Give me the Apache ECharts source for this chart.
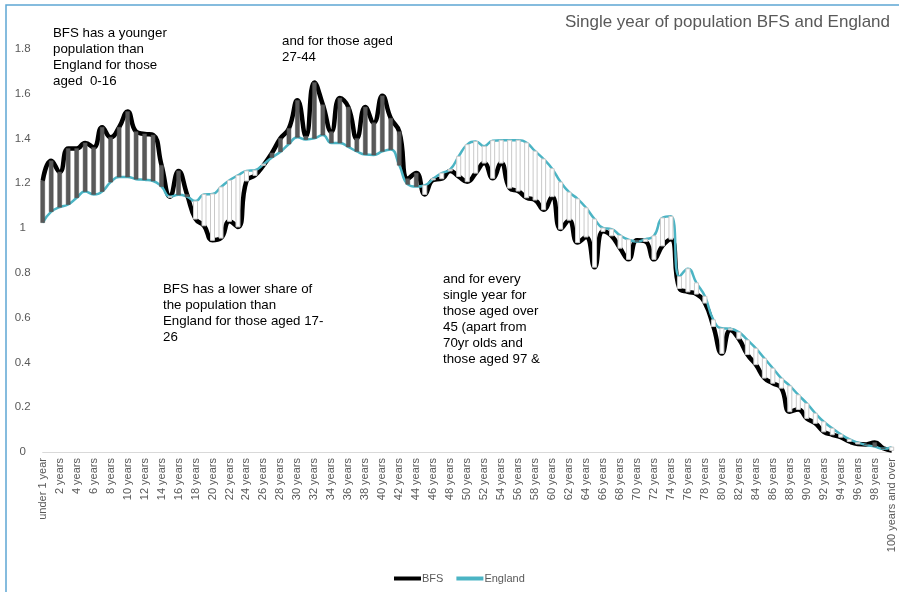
<!DOCTYPE html>
<html>
<head>
<meta charset="utf-8">
<script src="https://cdn.jsdelivr.net/npm/echarts@6/dist/echarts.min.js"></script>
<style>
  html, body { margin: 0; padding: 0; background: #fff; }
  #chart { width: 899px; height: 592px; }
</style>
</head>
<body>
<div id="chart"></div>
<script>
// Share of population (%) by single year of age, BFS vs England
const ages = ['under 1 year', '1 year'];
for (let a = 2; a <= 99; a++) ages.push(a + ' years');
ages.push('100 years and over');

const bfs = [
  1.21, 1.30, 1.25, 1.355, 1.355, 1.38, 1.36, 1.45, 1.405, 1.45,
  1.52, 1.43, 1.42, 1.415, 1.28, 1.14, 1.255, 1.15, 1.04, 1.01,
  0.945, 0.955, 1.03, 1.005, 1.21, 1.235, 1.28, 1.335, 1.40, 1.445,
  1.57, 1.41, 1.65, 1.55, 1.43, 1.58, 1.54, 1.40, 1.54, 1.47,
  1.59, 1.49, 1.43, 1.22, 1.245, 1.15, 1.215, 1.22, 1.255, 1.23,
  1.207, 1.245, 1.29, 1.222, 1.29, 1.178, 1.165, 1.135, 1.125, 1.082,
  1.14, 0.995, 1.035, 0.935, 0.96, 0.825, 0.985, 0.965, 0.91, 0.86,
  0.945, 0.94, 0.86, 0.92, 0.95, 0.73, 0.715, 0.705, 0.665, 0.56,
  0.44, 0.545, 0.505, 0.435, 0.39, 0.33, 0.307, 0.285, 0.18, 0.19,
  0.15, 0.128, 0.09, 0.077, 0.066, 0.047, 0.036, 0.034, 0.042, 0.017,
  0.007
];

const england = [
  1.024, 1.073, 1.093, 1.105, 1.135, 1.163, 1.15, 1.163, 1.205, 1.228,
  1.228, 1.218, 1.215, 1.21, 1.185, 1.14, 1.148, 1.14, 1.12, 1.15,
  1.152, 1.183, 1.213, 1.235, 1.255, 1.258, 1.285, 1.315, 1.34, 1.375,
  1.405, 1.395, 1.40, 1.415, 1.38, 1.38, 1.362, 1.342, 1.328, 1.326,
  1.342, 1.35, 1.28, 1.195, 1.185, 1.19, 1.22, 1.245, 1.262, 1.32,
  1.372, 1.386, 1.365, 1.39, 1.392, 1.392, 1.392, 1.38, 1.343, 1.308,
  1.265, 1.205, 1.16, 1.13, 1.09, 1.04, 1.0, 0.995, 0.967, 0.948,
  0.94, 0.95, 0.965, 1.045, 1.052, 0.783, 0.818, 0.755, 0.695, 0.59,
  0.552, 0.55, 0.535, 0.50, 0.463, 0.418, 0.374, 0.329, 0.295, 0.255,
  0.217, 0.173, 0.135, 0.106, 0.079, 0.057, 0.042, 0.031, 0.024, 0.014,
  0.022
];

const yTicks = { min: 0, max: 2, interval: 0.2 };

const titleText = 'Single year of population BFS and England';
const notes = [
  { x: 53, y: 33, lines: ['BFS has a younger', 'population than', 'England for those', 'aged  0-16'] },
  { x: 282, y: 41, lines: ['and for those aged', '27-44'] },
  { x: 163, y: 289, lines: ['BFS has a lower share of', 'the population than', 'England for those aged 17-', '26'] },
  { x: 443, y: 279, lines: ['and for every', 'single year for', 'those aged over', '45 (apart from', '70yr olds and', 'those aged 97 &'] }
];

const gapData = ages.map((_, i) => [i, bfs[i], england[i]]);

const chart = echarts.init(document.getElementById('chart'));

const graphics = [
  {
    type: 'rect', z: 0, silent: true,
    shape: { x: 6, y: 5, width: 1000, height: 700 },
    style: { fill: 'none', stroke: '#5ea7d3', lineWidth: 1.5 }
  },
  {
    type: 'text', z: 10,
    style: {
      x: 890, y: 22, text: titleText, textAlign: 'right', textVerticalAlign: 'middle',
      font: '17px "Liberation Sans", Arial, sans-serif', fill: '#595959'
    }
  }
];
notes.forEach(n => {
  n.lines.forEach((ln, k) => {
    graphics.push({
      type: 'text', z: 10,
      style: {
        x: n.x, y: n.y + k * 16, text: ln, textVerticalAlign: 'middle',
        font: '13.3px "Liberation Sans", Arial, sans-serif', fill: '#000'
      }
    });
  });
});

chart.setOption({
  animation: false,
  backgroundColor: '#fff',
  grid: { left: 42.7, right: 7.3, top: 4, bottom: 140 },
  legend: {
    bottom: 3, left: 389,
    data: ['BFS', 'England'],
    icon: 'rect', itemWidth: 27, itemHeight: 4, itemGap: 13,
    textStyle: { fontFamily: '"Liberation Sans", Arial, sans-serif', fontSize: 11, color: '#595959', padding: [0, 0, 0, -4] }
  },
  xAxis: {
    type: 'category',
    data: ages,
    boundaryGap: false,
    axisLine: { show: true, lineStyle: { color: '#d9d9d9', width: 1 } },
    axisTick: { show: false },
    axisLabel: {
      interval: 1, rotate: 90, margin: 6,
      fontFamily: '"Liberation Sans", Arial, sans-serif', fontSize: 11, color: '#595959'
    },
    splitLine: { show: false }
  },
  yAxis: {
    type: 'value',
    min: yTicks.min, max: yTicks.max, interval: yTicks.interval,
    axisLine: { show: false },
    axisTick: { show: false },
    splitLine: { show: false },
    axisLabel: {
      align: 'center', margin: 20,
      fontFamily: '"Liberation Sans", Arial, sans-serif', fontSize: 11.5, color: '#595959',
      formatter: v => (v >= yTicks.max ? '' : String(+v.toFixed(1)))
    }
  },
  graphic: graphics,
  series: [
    {
      name: 'BFS', type: 'line', data: bfs, smooth: 0.5,
      symbol: 'none', z: 2,
      lineStyle: { color: '#000', width: 4.5 },
      itemStyle: { color: '#000' }
    },
    {
      name: 'England', type: 'line', data: england, smooth: 0.5,
      symbol: 'none', z: 3,
      lineStyle: { color: '#4bb4c4', width: 2.5 },
      itemStyle: { color: '#4bb4c4' }
    },
    {
      name: 'gap', type: 'custom', data: gapData, z: 4,
      encode: { x: 0, y: [1, 2] },
      renderItem: (params, api) => {
        const i = api.value(0);
        const top = api.coord([i, api.value(1)]);
        const bot = api.coord([i, api.value(2)]);
        const up = api.value(1) > api.value(2);
        const w = 4;
        const y0 = Math.min(top[1], bot[1]);
        const h = Math.max(Math.abs(top[1] - bot[1]), 0.5);
        return {
          type: 'rect',
          shape: { x: top[0] - w / 2, y: y0, width: w, height: h },
          style: up
            ? { fill: '#595959', stroke: '#4a4a4a', lineWidth: 0.5 }
            : { fill: '#ffffff', stroke: '#c9c9c9', lineWidth: 1 }
        };
      }
    }
  ]
});
</script>
</body>
</html>
